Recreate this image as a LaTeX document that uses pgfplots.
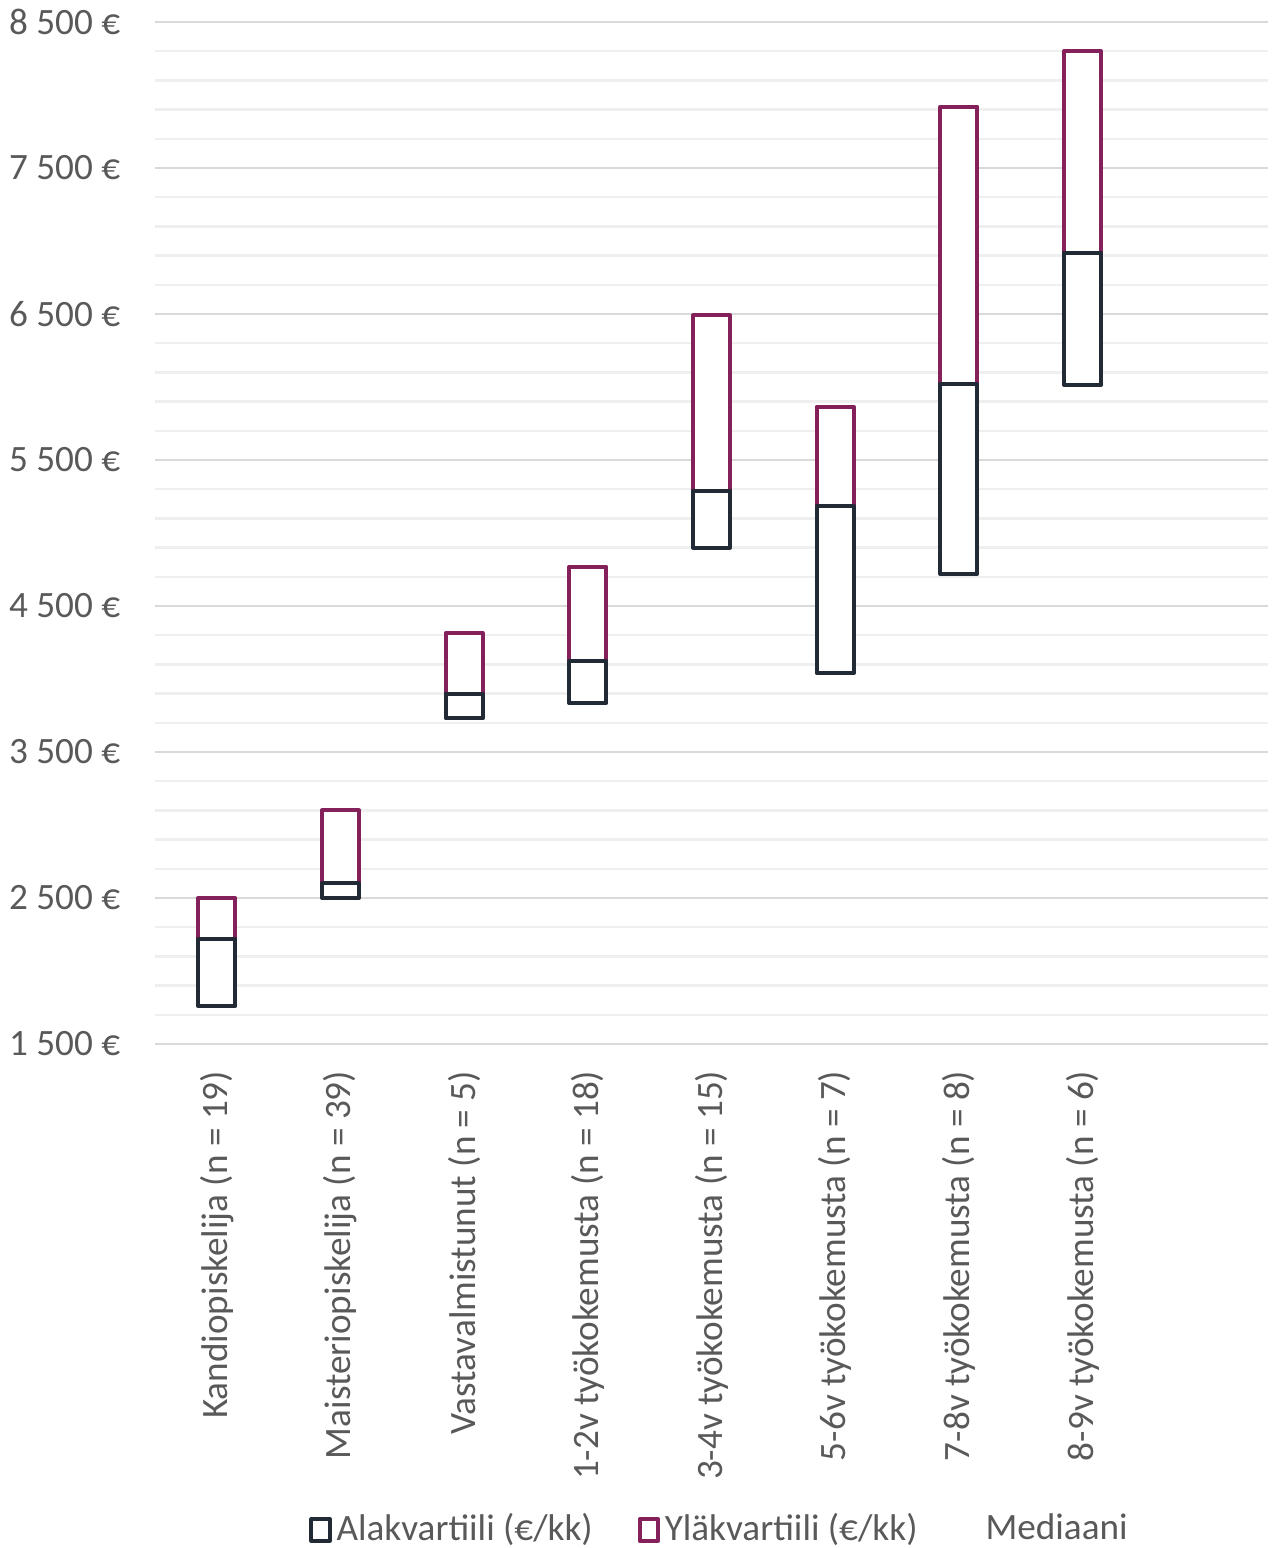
\documentclass[border=0pt]{standalone}
\usepackage{fontspec}
\setmainfont{Carlito}
\usepackage{pgfplots}
\usepackage{pgfplotstable}
\pgfplotsset{compat=1.18}

\definecolor{ala}{HTML}{222A35}
\definecolor{yla}{HTML}{84205A}
\definecolor{txt}{HTML}{595959}
\definecolor{majgrid}{HTML}{D9D9D9}
\definecolor{mingrid}{HTML}{EFEFEF}

% x  alakvartiili  (mediaani-ala)  (yla-mediaani)
\pgfplotstableread{
x low lowbox upbox
0 1760 460 280
1 2500 100 500
2 3730 170 415
3 3835 285 650
4 4900 390 1200
5 4040 1145 680
6 4720 1300 1900
7 6015 905 1380
}\quart

\begin{document}
\begin{tikzpicture}
\begin{axis}[
    name=ax,
    scale only axis,
    width=278.25pt, height=255.5pt,
    xmin=-0.5, xmax=8.5,
    ymin=1500, ymax=8500,
    ybar stacked,
    bar width=0.3,
    xtick={0,...,7},
    xticklabels={Kandiopiskelija (n = 19), Maisteriopiskelija (n = 39), Vastavalmistunut (n = 5), 1-2v työkokemusta (n = 18), 3-4v työkokemusta (n = 15), 5-6v työkokemusta (n = 7), 7-8v työkokemusta (n = 8), 8-9v työkokemusta (n = 6)},
    ytick={1500,2500,...,8500},
    yticklabels={1 500 €, 2 500 €, 3 500 €, 4 500 €, 5 500 €, 6 500 €, 7 500 €, 8 500 €},
    minor y tick num=4,
    ymajorgrids, yminorgrids,
    major grid style={majgrid, line width=0.6pt},
    minor grid style={mingrid, line width=0.6pt},
    major tick length=0pt, minor tick length=0pt,
    axis line style={draw=none},
    tick label style={font=\fontsize{9.3}{11}\selectfont, text=txt},
    yticklabel style={anchor=east, inner sep=0pt, xshift=-8.5pt},
    xticklabel style={yshift=-6.5pt, rotate=90, anchor=east, inner sep=0pt},
    legend columns=3,
    legend style={at={(0.5085,-0.4755)}, anchor=center, draw=none, fill=none,
        font=\fontsize{9.3}{11}\selectfont, text=txt,
        /tikz/every even column/.append style={column sep=10pt},
        nodes={inner sep=1.2pt}},
    legend cell align=left,
]
\addplot[draw=none, fill=none, forget plot] table[x=x, y=low] {\quart};
\addplot[draw=ala, fill=white, line width=1.0pt, line join=round, forget plot] table[x=x, y=lowbox] {\quart};
\addplot[draw=yla, fill=white, line width=1.0pt, line join=round, forget plot] table[x=x, y=upbox] {\quart};

\addlegendimage{legend image code/.code={\draw[ala, line width=1.0pt, line join=round] (0pt,-2.7pt) rectangle (4.6pt,2.7pt);}}
\addlegendentry{Alakvartiili (€/kk)}
\addlegendimage{legend image code/.code={\draw[yla, line width=1.0pt, line join=round] (0pt,-2.7pt) rectangle (4.6pt,2.7pt);}}
\addlegendentry{Yläkvartiili (€/kk)}
\addlegendimage{legend image code/.code={\path[draw=none, fill=none] (0pt,-2.7pt) rectangle (4.6pt,2.7pt);}}
\addlegendentry{Mediaani}
\end{axis}
\pgfresetboundingbox
\path (ax.south west) ++(-38.75pt,-126pt) rectangle ++(318.75pt,387pt);
\end{tikzpicture}
\end{document}
